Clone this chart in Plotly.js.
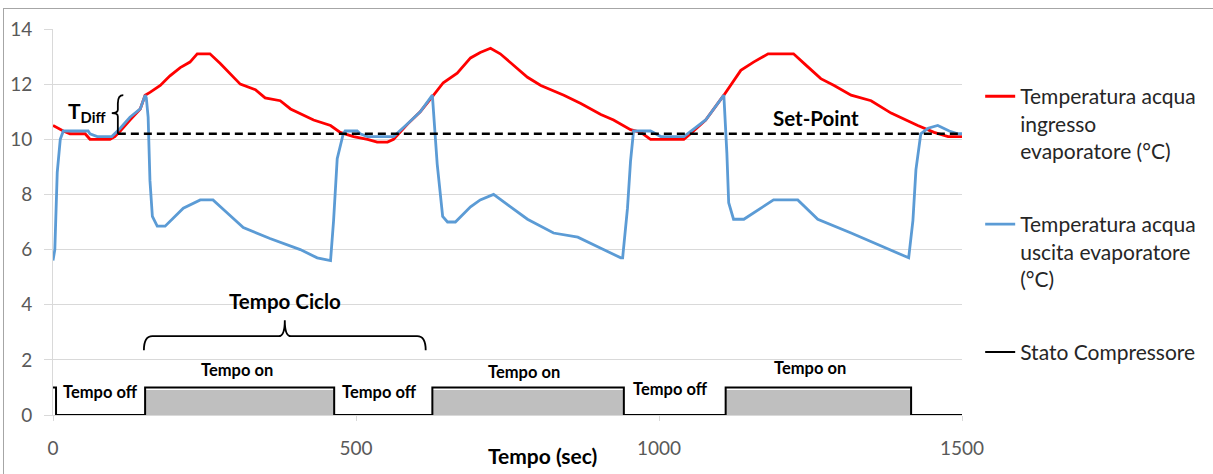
<!DOCTYPE html>
<html>
<head>
<meta charset="utf-8">
<script src="https://cdn.plot.ly/plotly-3.0.1.min.js"></script>
<style>
  html, body { margin: 0; padding: 0; background: #ffffff; }
  #wrap { position: relative; width: 1213px; height: 474px; overflow: hidden; }
  #chart { position: absolute; left: 0; top: 0; width: 1213px; height: 474px; }
  #frame { position: absolute; left: 3px; top: 8px; right: -2px; bottom: -2px;
           border-top: 1px solid #a6a6a6; border-left: 1px solid #a6a6a6; pointer-events: none; }
</style>
</head>
<body>
<div id="wrap">
  <div id="chart"></div>
  <div id="frame"></div>
</div>
<script>
// Water temperature entering the evaporator (°C) over time (s)
const tIn = [0, 8, 17, 28, 53, 61, 94, 102, 111, 127, 144, 152, 160, 177, 193, 210, 226, 238, 259, 276, 292, 309,
             334, 350, 375, 392, 430, 458, 474, 496, 519, 535, 552, 562, 585, 606, 628, 644, 667, 689, 705, 722,
             738, 760, 783, 805, 843, 871, 904, 925, 953, 970, 986, 1041, 1052, 1077, 1107, 1135, 1156, 1180,
             1222, 1242, 1267, 1289, 1317, 1350, 1383, 1427, 1454, 1477, 1500];
const tempIn = [10.5, 10.4, 10.3, 10.2, 10.2, 10.0, 10.0, 10.1, 10.3, 10.7, 11.1, 11.6, 11.7, 11.95, 12.3, 12.6, 12.8, 13.1, 13.1, 12.75, 12.4, 12.0,
                11.8, 11.5, 11.4, 11.1, 10.7, 10.5, 10.25, 10.1, 10.0, 9.9, 9.9, 10.0, 10.55, 11.0, 11.6, 12.05, 12.4, 12.95, 13.15, 13.3,
                13.1, 12.7, 12.25, 11.95, 11.6, 11.3, 10.9, 10.7, 10.35, 10.25, 10.0, 10.0, 10.2, 10.7, 11.6, 12.5, 12.8, 13.1,
                13.1, 12.7, 12.2, 11.95, 11.6, 11.4, 10.95, 10.5, 10.25, 10.1, 10.1];

// Water temperature leaving the evaporator (°C) over time (s)
const tOut = [0, 3, 7, 12, 17, 58, 61, 73, 97, 111, 127, 144, 152, 154, 157, 160, 164, 172, 185, 202, 215, 243, 264,
              284, 314, 358, 408, 436, 458, 463, 469, 479, 482, 502, 507, 519, 562, 582, 606, 626, 634, 643, 651,
              664, 689, 705, 727, 755, 783, 826, 866, 904, 937, 940, 948, 953, 958, 986, 995, 1003, 1041, 1077,
              1107, 1112, 1115, 1123, 1140, 1168, 1189, 1229, 1262, 1317, 1355, 1388, 1412, 1419, 1424, 1432,
              1444, 1460, 1479, 1493, 1500];
const tempOut = [5.6, 6.0, 8.8, 10.0, 10.3, 10.3, 10.2, 10.1, 10.1, 10.4, 10.8, 11.1, 11.6, 11.5, 10.8, 8.5, 7.2, 6.85, 6.85, 7.2, 7.5, 7.8, 7.8,
                 7.4, 6.8, 6.4, 6.0, 5.7, 5.6, 7.05, 9.3, 10.2, 10.3, 10.3, 10.2, 10.1, 10.1, 10.5, 11.0, 11.6, 9.1, 7.2, 7.0,
                 7.0, 7.55, 7.8, 8.0, 7.55, 7.1, 6.6, 6.45, 6.05, 5.7, 5.7, 7.5, 9.2, 10.3, 10.3, 10.2, 10.1, 10.1, 10.7,
                 11.6, 9.5, 7.7, 7.1, 7.1, 7.5, 7.8, 7.8, 7.1, 6.6, 6.25, 5.95, 5.7, 7.05, 8.9, 10.2,
                 10.4, 10.5, 10.3, 10.2, 10.2];

// Compressor state: switching instants (s) and state after each instant
const tComp = [0, 5, 152, 464, 626, 942, 1110, 1416, 1500];
const stateComp = [1, 0, 1, 0, 1, 0, 1, 0, 0];

// Compressor "on" intervals (s), shaded up to this level
const onStart = [152, 626, 1110];
const onEnd = [464, 942, 1416];
const onShadeLevel = 0.9;

// Control set-point (°C) and the start of its reference line (s)
const setPoint = 10.2;
const setPointFrom = 107;
const tDiffTop = 11.6;

// Axis ticks
const xTicks = [0, 500, 1000, 1500];
const yTicks = [0, 2, 4, 6, 8, 10, 12, 14];

const FONT = 'Lato, "Open Sans", sans-serif';
const TICK_COLOR = '#595959';

const onMid = onStart.map((s, i) => (s + onEnd[i]) / 2);
const onWidth = onStart.map((s, i) => onEnd[i] - s);

const traces = [
  {
    type: 'bar', x: onMid, y: onStart.map(() => onShadeLevel), width: onWidth,
    marker: { color: '#bfbfbf', line: { width: 0 } }, showlegend: false, hoverinfo: 'skip'
  },
  {
    type: 'scatter', mode: 'lines', x: tIn, y: tempIn,
    name: 'Temperatura acqua<br>ingresso<br>evaporatore (°C)',
    line: { color: '#ff0000', width: 2.8 }, legendgroup: 'a'
  },
  {
    type: 'scatter', mode: 'lines', x: tOut, y: tempOut,
    name: 'Temperatura acqua<br>uscita evaporatore<br>(°C)',
    line: { color: '#5b9bd5', width: 2.8 }, legendgroup: 'b'
  },
  {
    type: 'scatter', mode: 'lines', x: tComp, y: stateComp,
    name: 'Stato Compressore',
    line: { color: '#000000', width: 2, shape: 'hv' }, legendgroup: 'c'
  },
  {
    type: 'scatter', mode: 'lines', x: [setPointFrom, 1500], y: [setPoint, setPoint],
    line: { color: '#000000', width: 2.6, dash: '8px,5px' }, showlegend: false, hoverinfo: 'skip'
  }
];

// Braces for the cycle time and the differential
const cycA = onStart[0] - 2, cycB = onStart[1] - 11, cycM = (cycA + cycB) / 2;
const cycLow = 2.35, cycMid = 2.86, cycTip = 3.44;
const ciclePath = `M ${cycA},${cycLow} Q ${cycA},${cycMid} ${cycA + 14},${cycMid} L ${cycM - 10},${cycMid} ` +
                  `Q ${cycM},${cycMid} ${cycM},${cycTip} Q ${cycM},${cycMid} ${cycM + 10},${cycMid} ` +
                  `L ${cycB - 14},${cycMid} Q ${cycB},${cycMid} ${cycB},${cycLow}`;
const bx = setPointFrom, bMid = (setPoint + tDiffTop) / 2 + 0.05;
const diffPath = `M ${bx + 9},${tDiffTop} Q ${bx},${tDiffTop} ${bx},${tDiffTop - 0.3} L ${bx},${bMid + 0.12} ` +
                 `Q ${bx},${bMid} ${bx - 10},${bMid} Q ${bx},${bMid} ${bx},${bMid - 0.12} L ${bx},${setPoint}`;

const boldAnn = (x, y, text, size) => ({
  x, y, xref: 'x', yref: 'y', text, showarrow: false,
  font: { family: FONT, size, color: '#000000', weight: 'bold' }
});

const layout = {
  width: 1213, height: 474,
  margin: { l: 53, r: 251, t: 29, b: 59 },
  paper_bgcolor: '#ffffff', plot_bgcolor: '#ffffff',
  font: { family: FONT, color: TICK_COLOR },
  showlegend: true,
  xaxis: {
    range: [0, 1500], tickvals: xTicks, showgrid: false, zeroline: false,
    showline: true, linecolor: '#d9d9d9', linewidth: 1,
    ticks: 'outside', ticklen: 5, tickcolor: '#d9d9d9',
    tickfont: { family: FONT, size: 19, color: TICK_COLOR }, ticklabelstandoff: 11
  },
  yaxis: {
    range: [0, 14], tickvals: yTicks, showgrid: true, gridcolor: '#d9d9d9', gridwidth: 1, zeroline: false,
    showline: true, linecolor: '#d9d9d9', linewidth: 1,
    ticks: 'outside', ticklen: 8, tickcolor: '#d9d9d9',
    tickfont: { family: FONT, size: 19, color: TICK_COLOR }, ticklabelstandoff: 8
  },
  legend: {
    x: 1.02, xanchor: 'left', y: 0.878, yanchor: 'top', valign: 'top',
    font: { family: FONT, size: 21, color: '#262626' },
    tracegroupgap: 43, bgcolor: 'rgba(0,0,0,0)', itemwidth: 30
  },
  shapes: [
    { type: 'path', xref: 'x', yref: 'y', path: ciclePath, line: { color: '#000000', width: 1.8 } },
    { type: 'path', xref: 'x', yref: 'y', path: diffPath, line: { color: '#000000', width: 1.8 } }
  ],
  annotations: [
    boldAnn(1259, 10.78, 'Set-Point', 20.5),
    boldAnn(383, 4.12, 'Tempo Ciclo', 20.5),
    boldAnn(56, 11.0, 'T<sub>Diff</sub>', 21),
    boldAnn(78, 0.83, 'Tempo off', 16.5),
    boldAnn(539, 0.83, 'Tempo off', 16.5),
    boldAnn(1019, 0.94, 'Tempo off', 16.5),
    boldAnn(304, 1.63, 'Tempo on', 16.5),
    boldAnn(778, 1.56, 'Tempo on', 16.5),
    boldAnn(1249, 1.7, 'Tempo on', 16.5),
    {
      x: 0.539, y: -0.104, xref: 'paper', yref: 'paper', xanchor: 'center', yanchor: 'middle',
      text: 'Tempo (sec)', showarrow: false,
      font: { family: FONT, size: 21, color: '#000000', weight: 'bold' }
    }
  ],
  bargap: 0
};

Plotly.newPlot('chart', traces, layout, { displayModeBar: false, staticPlot: true });
</script>
</body>
</html>
